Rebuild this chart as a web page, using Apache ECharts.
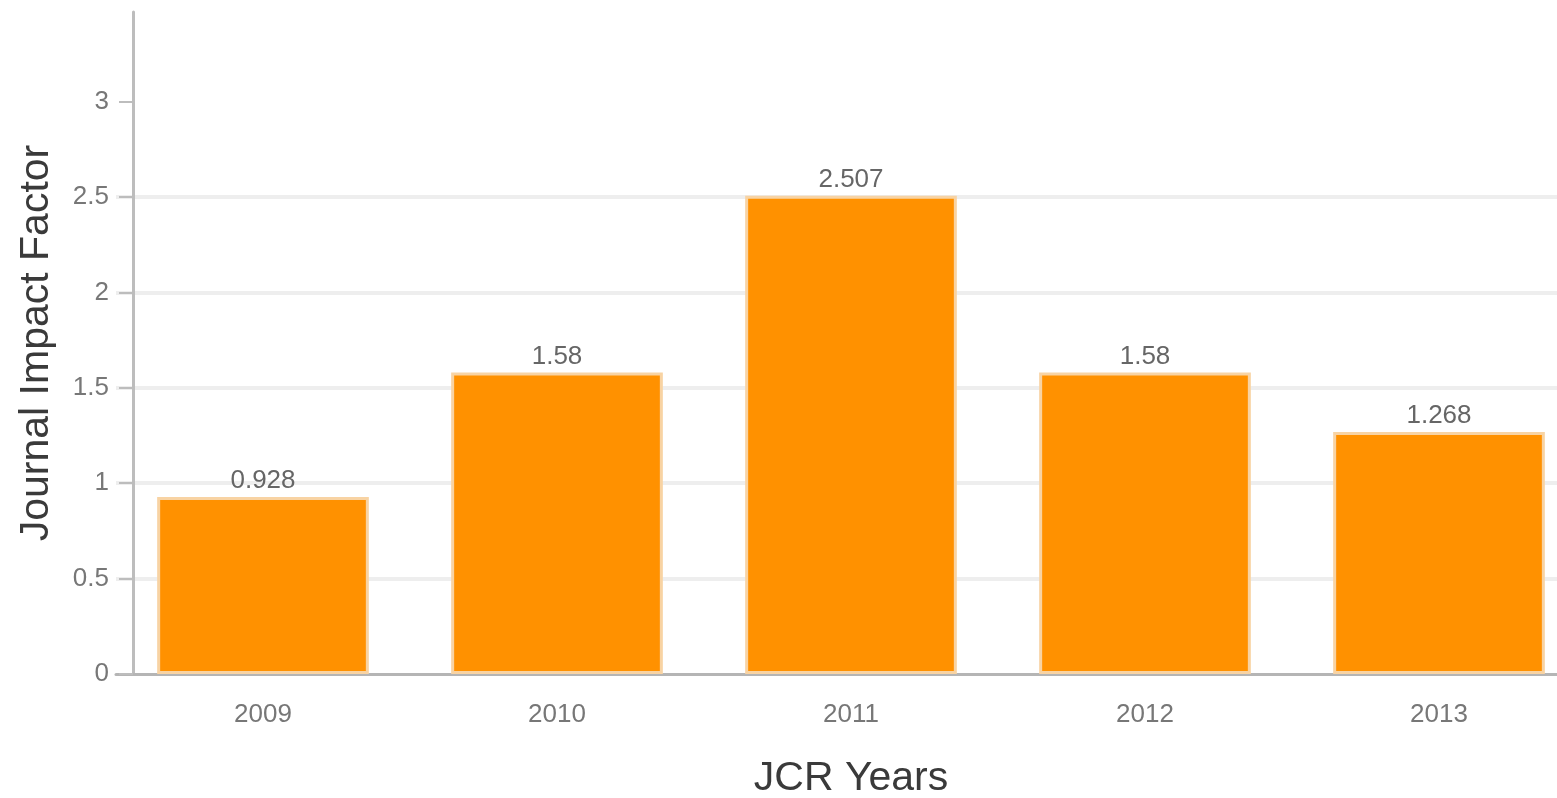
<!DOCTYPE html>
<html>
<head>
<meta charset="utf-8">
<script src="https://cdn.jsdelivr.net/npm/echarts@6/dist/echarts.min.js"></script>
<style>
html,body{margin:0;padding:0;background:#fff;}
#chart{width:1557px;height:798px;}
</style>
</head>
<body>
<div id="chart"></div>
<script>
var years = ['2009', '2010', '2011', '2012', '2013'];
var impactFactor = [0.928, 1.58, 2.507, 1.58, 1.268];
var gridValues = [0.5, 1, 1.5, 2, 2.5];

var chart = echarts.init(document.getElementById('chart'));
var font = 'Liberation Sans, Arial, sans-serif';
chart.setOption({
  animation: false,
  backgroundColor: '#fff',
  grid: { left: 116, width: 1470, top: 12, bottom: 124, containLabel: false, outerBoundsMode: 'none' },
  xAxis: {
    type: 'category',
    data: years,
    name: 'JCR Years',
    nameLocation: 'middle',
    nameGap: 84,
    nameTextStyle: { fontFamily: font, fontSize: 41, color: '#3a3a3a' },
    axisLine: { lineStyle: { color: '#b5b5b5', width: 3 } },
    axisTick: { alignWithLabel: true, length: 12, lineStyle: { color: '#b5b5b5', width: 3 } },
    axisLabel: { fontFamily: font, fontSize: 26, color: '#777', margin: 28 }
  },
  yAxis: {
    type: 'value',
    min: 0,
    max: 3.47,
    interval: 0.5,
    offset: -17,
    name: 'Journal Impact Factor',
    nameLocation: 'middle',
    nameGap: 76,
    nameTextStyle: { fontFamily: font, fontSize: 41, color: '#3a3a3a' },
    axisLine: { show: true, lineStyle: { color: '#bdbdbd', width: 3 } },
    axisTick: { show: true, length: 14, lineStyle: { color: '#bdbdbd', width: 2 } },
    axisLabel: { fontFamily: font, fontSize: 26, color: '#777', margin: 24, showMaxLabel: false },
    splitLine: { show: false }
  },
  series: [{
    type: 'bar',
    data: impactFactor,
    barCategoryGap: '28%',
    itemStyle: { color: '#ff9100', borderColor: '#f8d3a3', borderWidth: 3 },
    label: { show: true, position: 'top', distance: 3, fontFamily: font, fontSize: 26, color: '#666' },
    markLine: {
      silent: true,
      symbol: 'none',
      label: { show: false },
      lineStyle: { type: 'solid', color: '#eeeeee', width: 4 },
      data: gridValues.map(function (v) { return { yAxis: v }; }),
      z: 0
    },
    z: 2
  }]
});
</script>
</body>
</html>
